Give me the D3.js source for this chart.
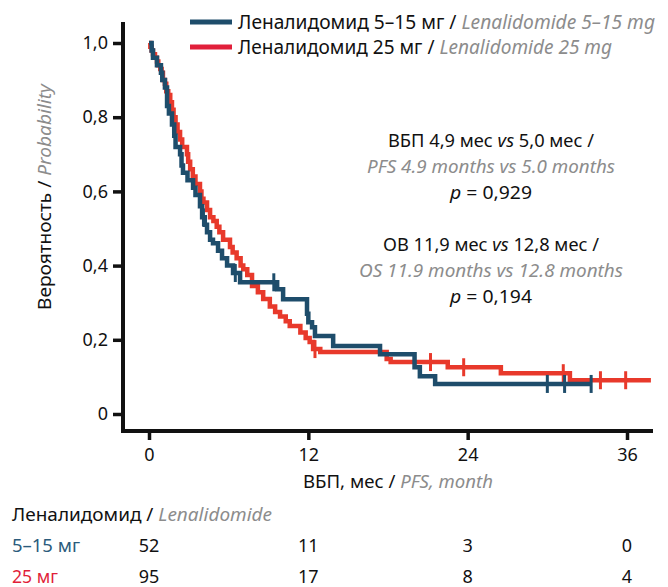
<!DOCTYPE html>
<html>
<head>
<meta charset="utf-8">
<script src="https://cdn.jsdelivr.net/npm/d3@7"></script>
<style>
  body { margin: 0; background: #fff; }
  svg text { font-family: "Noto Sans", "Open Sans", sans-serif; }
</style>
</head>
<body>
<svg id="km" width="668" height="587"></svg>
<script>
// tick labels
var xTicks = [0, 12, 24, 36];
var yTicks = [0, 0.2, 0.4, 0.6, 0.8, 1.0];

// Lenalidomide 5-15 mg (event time in months, survival after the step)
var blueTime = [0.2, 0.3, 0.6, 0.9, 1.0, 1.2, 1.36, 1.5, 1.73, 1.9, 2.0, 2.34, 2.45, 2.56, 2.9, 3.32, 3.5, 3.84, 4.0,
  4.2, 4.37, 4.6, 4.82, 5.2, 5.5, 5.88, 6.33, 6.86, 9.65, 10.1, 11.9, 12.0, 12.28, 12.5, 13.87, 17.4, 20.0, 20.4, 21.55];
var blueSurv = [0.98, 0.96, 0.94, 0.92, 0.90, 0.88, 0.83, 0.81, 0.78, 0.75, 0.72, 0.70, 0.67, 0.65, 0.63, 0.61, 0.59, 0.56, 0.53,
  0.51, 0.49, 0.47, 0.46, 0.44, 0.42, 0.40, 0.38, 0.355, 0.336, 0.309, 0.27, 0.247, 0.234, 0.21, 0.183, 0.161, 0.126, 0.102, 0.081];
var blueEnd = 33.3;
var blueCensor = [4.1, 6.5, 9.4, 30.0, 31.3, 33.3];

// Lenalidomide 25 mg
var redTime = [0.1, 0.2, 0.3, 0.45, 0.6, 0.7, 0.85, 0.95, 1.05, 1.2, 1.3, 1.45, 1.6, 1.73, 1.85, 2.0, 2.15, 2.34, 2.5, 2.86,
  2.95, 3.1, 3.3, 3.5, 3.84, 3.95, 4.1, 4.37, 4.6, 4.85, 5.1, 5.3, 5.58, 6.1, 6.3, 6.6, 6.9, 7.1, 7.4, 7.76, 8.2, 8.6,
  9.1, 9.5, 9.87, 10.3, 10.6, 11.4, 11.8, 12.1, 12.36, 12.9, 17.9, 18.2, 22.5, 26.5, 31.7];
var redSurv = [0.99, 0.98, 0.97, 0.96, 0.95, 0.94, 0.93, 0.92, 0.90, 0.89, 0.87, 0.86, 0.84, 0.82, 0.80, 0.78, 0.76, 0.74, 0.72, 0.70,
  0.68, 0.66, 0.64, 0.62, 0.60, 0.58, 0.57, 0.55, 0.53, 0.52, 0.505, 0.49, 0.47, 0.45, 0.435, 0.42, 0.40, 0.39, 0.375, 0.345, 0.328, 0.31,
  0.29, 0.275, 0.263, 0.25, 0.237, 0.22, 0.205, 0.194, 0.175, 0.167, 0.148, 0.14, 0.126, 0.11, 0.091];
var redEnd = 37.8;
var redCensor = [12.5, 21.2, 23.7, 31.2, 34.0, 35.9];

// number at risk
var riskBlue = [52, 11, 3, 0];
var riskRed = [95, 17, 8, 4];

var BLUE = "#1e4d6b", RED = "#e8392b", GREY = "#8c8c8c";

var svg = d3.select("svg#km");
var x = d3.scaleLinear().domain([0, 36]).range([149, 627]);
var y = d3.scaleLinear().domain([0, 1]).range([414, 43]);

function label(px, py, parts, anchor, len, size) {
  var t = svg.append("text")
    .attr("x", px).attr("y", py + (size || 18) * 0.35)
    .attr("font-size", size || 18)
    .attr("text-anchor", anchor || "start");
  parts.forEach(function (p) {
    var s = t.append("tspan").text(p[0]).attr("fill", p[1] || "#111");
    if (p[2]) s.attr("font-style", "italic");
  });
  if (len) t.attr("textLength", len).attr("lengthAdjust", "spacingAndGlyphs");
  return t;
}

// axes lines
svg.append("line").attr("x1", 123).attr("x2", 123).attr("y1", 22).attr("y2", 433)
  .attr("stroke", "#111").attr("stroke-width", 4);
svg.append("line").attr("x1", 121).attr("x2", 653).attr("y1", 431).attr("y2", 431)
  .attr("stroke", "#111").attr("stroke-width", 4);

// y axis
var yAxis = svg.append("g").attr("transform", "translate(123,0)")
  .call(d3.axisLeft(y).tickValues(yTicks).tickSize(10).tickPadding(5)
    .tickFormat(function (d) { return d === 0 ? "0" : d3.format(".1f")(d).replace(".", ","); }));
yAxis.select(".domain").remove();
yAxis.selectAll("line").attr("stroke", "#111").attr("stroke-width", 3.5);
yAxis.selectAll("text").attr("font-size", 18).attr("fill", "#111")
  .attr("font-family", "Noto Sans");

// x axis
var xAxis = svg.append("g").attr("transform", "translate(0,431)")
  .call(d3.axisBottom(x).tickValues(xTicks).tickSize(9).tickPadding(8));
xAxis.select(".domain").remove();
xAxis.selectAll("line").attr("stroke", "#111").attr("stroke-width", 3.5);
xAxis.selectAll("text").attr("font-size", 18).attr("fill", "#111")
  .attr("font-family", "Noto Sans");

// curves
function steps(times, surv, end) {
  var pts = [[0, 1]];
  times.forEach(function (t, i) { pts.push([t, surv[i]]); });
  pts.push([end, surv[surv.length - 1]]);
  return pts;
}
function survAt(times, surv, t) {
  var i = d3.bisectRight(times, t);
  return i === 0 ? 1 : surv[i - 1];
}
var line = d3.line().x(function (d) { return x(d[0]); }).y(function (d) { return y(d[1]); })
  .curve(d3.curveStepAfter);

function drawCurve(times, surv, end, censor, color) {
  svg.append("path").datum(steps(times, surv, end))
    .attr("d", line).attr("fill", "none")
    .attr("stroke", color).attr("stroke-width", 4.5);
  svg.append("g").selectAll("line").data(censor).enter().append("line")
    .attr("x1", function (d) { return x(d); }).attr("x2", function (d) { return x(d); })
    .attr("y1", function (d) { return y(survAt(times, surv, d)) - 9; })
    .attr("y2", function (d) { return y(survAt(times, surv, d)) + 9; })
    .attr("stroke", color).attr("stroke-width", 3);
}
drawCurve(redTime, redSurv, redEnd, redCensor, RED);
drawCurve(blueTime, blueSurv, blueEnd, blueCensor, BLUE);

// legend
svg.append("line").attr("x1", 190).attr("x2", 232).attr("y1", 22).attr("y2", 22)
  .attr("stroke", BLUE).attr("stroke-width", 5);
svg.append("line").attr("x1", 190).attr("x2", 232).attr("y1", 47).attr("y2", 47)
  .attr("stroke", "#e11f3a").attr("stroke-width", 5);
label(238, 22, [["Леналидомид 5–15 мг / "], ["Lenalidomide 5–15 mg", GREY, true]], "start", 417, 19);
label(238, 47, [["Леналидомид 25 мг / "], ["Lenalidomide 25 mg", GREY, true]], "start", 374, 19);

// annotations
label(491, 141, [["ВБП 4,9 мес "], ["vs", null, true], [" 5,0 мес /"]], "middle", 206);
label(491, 167, [["PFS 4.9 months vs 5.0 months", GREY, true]], "middle", 248);
label(491, 193, [["p", null, true], [" = 0,929"]], "middle", 82);
label(491, 245, [["ОВ 11,9 мес "], ["vs", null, true], [" 12,8 мес /"]], "middle", 216);
label(491, 271, [["OS 11.9 months vs 12.8 months", GREY, true]], "middle", 264);
label(491, 297, [["p", null, true], [" = 0,194"]], "middle", 82);

// axis titles
label(398, 482, [["ВБП, мес / "], ["PFS, month", GREY, true]], "middle", 190);
svg.append("g").attr("transform", "translate(45,197) rotate(-90)")
  .append("text").attr("x", 0).attr("y", 6).attr("font-size", 18).attr("text-anchor", "middle")
  .attr("textLength", 226).attr("lengthAdjust", "spacingAndGlyphs")
  .call(function (t) {
    t.append("tspan").text("Вероятность / ").attr("fill", "#111");
    t.append("tspan").text("Probability").attr("fill", GREY).attr("font-style", "italic");
  });

// number at risk table
label(12, 515, [["Леналидомид / "], ["Lenalidomide", GREY, true]], "start", 260);
label(12, 546, [["5–15 мг", "#2b5b7c"]], "start", 68);
label(12, 577, [["25 мг", "#e11f3a"]], "start", 46);
svg.append("g").selectAll("text").data(riskBlue).enter().append("text")
  .attr("x", function (d, i) { return x(xTicks[i]); }).attr("y", 546 + 6)
  .attr("text-anchor", "middle").attr("font-size", 18).attr("fill", "#111")
  .text(function (d) { return d; });
svg.append("g").selectAll("text").data(riskRed).enter().append("text")
  .attr("x", function (d, i) { return x(xTicks[i]); }).attr("y", 577 + 6)
  .attr("text-anchor", "middle").attr("font-size", 18).attr("fill", "#111")
  .text(function (d) { return d; });
</script>
</body>
</html>
